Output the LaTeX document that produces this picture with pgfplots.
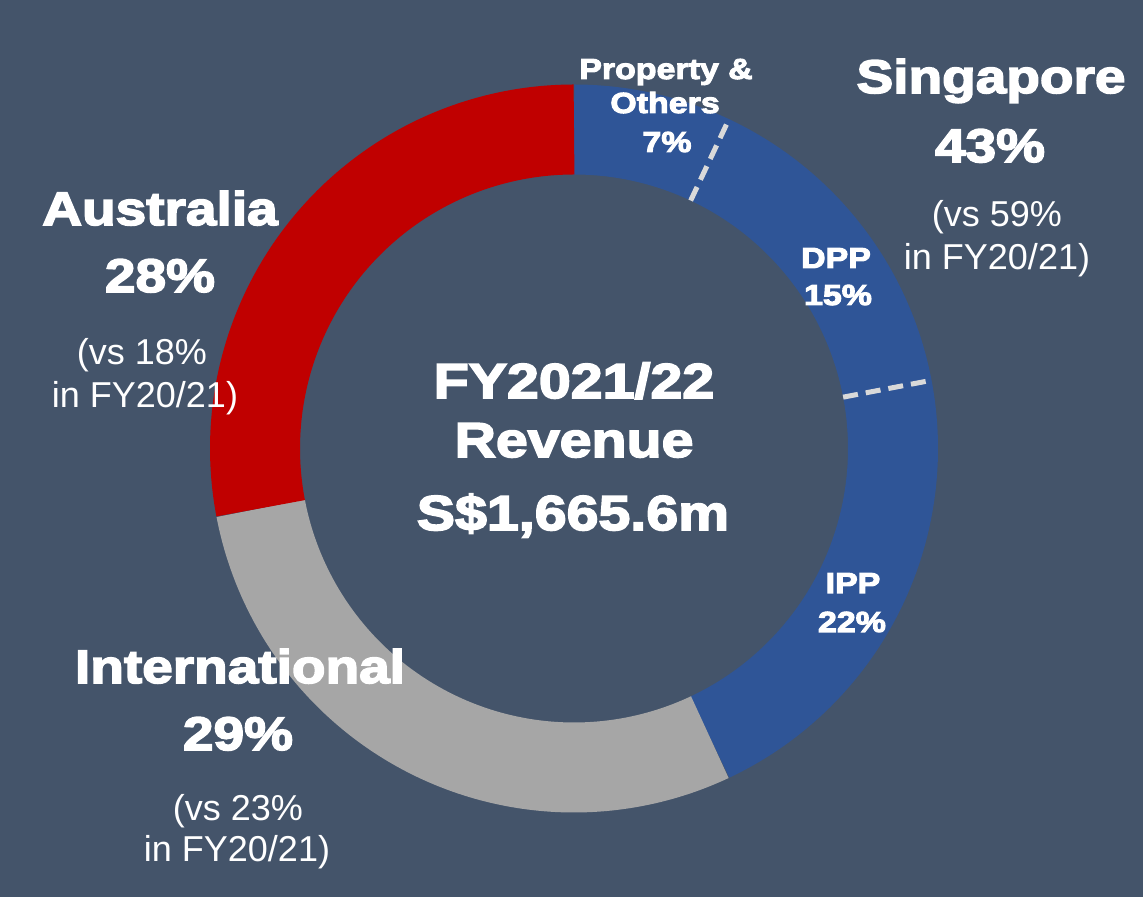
\documentclass[border=0pt]{standalone}
\usepackage{pgfplots}
\pgfplotsset{compat=1.18}
\usepackage{fontspec}
\setmainfont{Liberation Sans}
\newfontfamily\heavy[FakeStretch=1.17,FakeBold=3.5]{Liberation Sans Bold}
\definecolor{bgc}{HTML}{44546A}
\definecolor{sgblue}{HTML}{2F5597}
\definecolor{ausred}{HTML}{C00000}
\definecolor{intgrey}{HTML}{A6A6A6}
\definecolor{dashc}{HTML}{D9D9D9}
% shares of FY2021/22 revenue (%)
\def\pSing{43}\def\pIntl{29}\def\pAus{28}
\def\pProp{7}\def\pDPP{15}\def\pIPP{22}
\pgfmathsetmacro\aSingEnd{90-3.6*\pSing}
\pgfmathsetmacro\aIntlEnd{\aSingEnd-3.6*\pIntl}
\pgfmathsetmacro\aPropEnd{90-3.6*\pProp}
\pgfmathsetmacro\aDPPEnd{\aPropEnd-3.6*\pDPP}
\pgfmathsetmacro\aAusStart{360+\aIntlEnd}
\def\cx{574}\def\cy{448.5}\def\rm{319}\def\ri{274}\def\ro{364}
\begin{document}
\begin{tikzpicture}
\fill[bgc] (0,0) rectangle (571.5pt,448.5pt);
\begin{axis}[at={(0,0)},anchor=south west,scale only axis,width=571.5pt,height=448.5pt,
  xmin=0,xmax=1143,ymin=0,ymax=897,hide axis,clip=false]
\addplot[draw=sgblue,line width=45pt,domain=\aSingEnd:90,samples=160,variable=\t]
  ({\cx+\rm*cos(t)},{\cy+\rm*sin(t)});
\addplot[draw=intgrey,line width=45pt,domain=\aIntlEnd:\aSingEnd,samples=120,variable=\t]
  ({\cx+\rm*cos(t)},{\cy+\rm*sin(t)});
\addplot[draw=ausred,line width=45pt,domain=90:\aAusStart,samples=120,variable=\t]
  ({\cx+\rm*cos(t)},{\cy+\rm*sin(t)});
% dashed separators inside Singapore
\addplot[draw=dashc,line width=2.5pt,dash pattern=on 7.5pt off 4pt,samples=2,domain=\ri:\ro,variable=\r]
  ({\cx+\r*cos(\aPropEnd)},{\cy+\r*sin(\aPropEnd)});
\addplot[draw=dashc,line width=2.5pt,dash pattern=on 7.5pt off 4pt,samples=2,domain=\ri:\ro,variable=\r]
  ({\cx+\r*cos(\aDPPEnd)},{\cy+\r*sin(\aDPPEnd)});
\tikzset{lab/.style={anchor=base,inner sep=0pt,text=white}}
\def\big{\heavy\fontsize{23.5pt}{28pt}\selectfont}
\def\mid{\heavy\fontsize{24.5pt}{29pt}\selectfont}
\def\sml{\heavy\fontsize{14.5pt}{17pt}\selectfont}
\def\reg{\fontsize{18pt}{21pt}\selectfont}
% Singapore
\node[lab,font=\big] at (axis cs:991,804) {Singapore};
\node[lab,font=\big] at (axis cs:990,735) {\pSing\%};
\node[lab,font=\reg] at (axis cs:997,670) {(vs 59\%};
\node[lab,font=\reg] at (axis cs:997,627) {in FY20/21)};
% Australia
\node[lab,font=\big] at (axis cs:160,672) {Australia};
\node[lab,font=\big] at (axis cs:160,605) {\pAus\%};
\node[lab,font=\reg] at (axis cs:142,532) {(vs 18\%};
\node[lab,font=\reg] at (axis cs:145,489) {in FY20/21)};
% International
\node[lab,font=\big] at (axis cs:240,214) {International};
\node[lab,font=\big] at (axis cs:238,147) {\pIntl\%};
\node[lab,font=\reg] at (axis cs:238,76) {(vs 23\%};
\node[lab,font=\reg] at (axis cs:237,36) {in FY20/21)};
% sub segments
\node[lab,font=\sml] at (axis cs:666,818) {Property \&};
\node[lab,font=\sml] at (axis cs:665,784) {Others};
\node[lab,font=\sml] at (axis cs:667,745) {\pProp\%};
\node[lab,font=\sml] at (axis cs:836,629) {DPP};
\node[lab,font=\sml] at (axis cs:838,592) {\pDPP\%};
\node[lab,font=\sml] at (axis cs:853,304) {IPP};
\node[lab,font=\sml] at (axis cs:852,265) {\pIPP\%};
% centre
\node[lab,font=\mid] at (axis cs:574,499) {FY2021/22};
\node[lab,font=\mid] at (axis cs:574,440) {Revenue};
\node[lab,font=\mid] at (axis cs:573,367) {S\$1,665.6m};
\end{axis}
\end{tikzpicture}
\end{document}
